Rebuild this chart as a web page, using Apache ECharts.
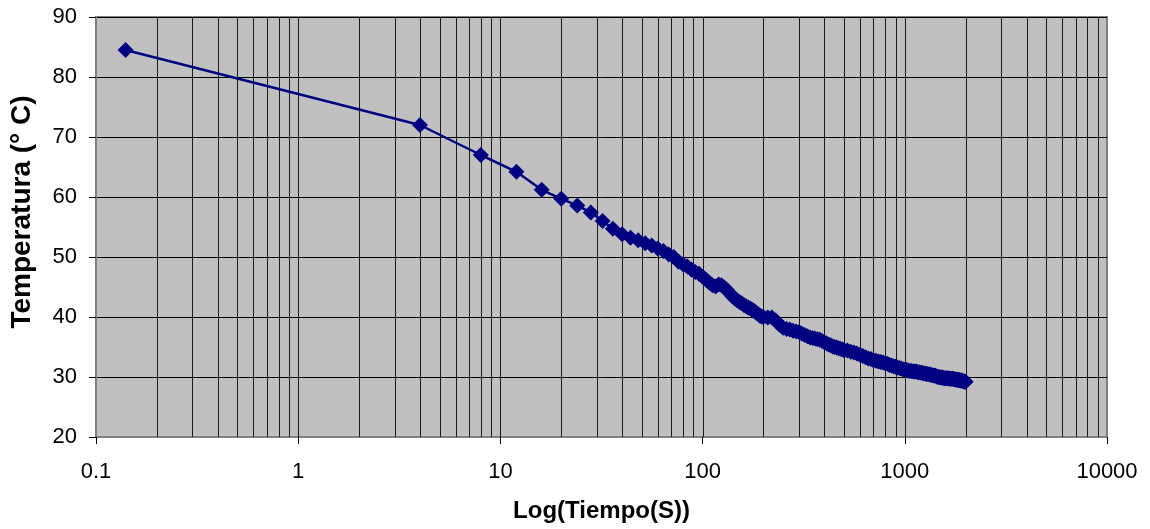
<!DOCTYPE html>
<html>
<head>
<meta charset="utf-8">
<script src="https://cdn.jsdelivr.net/npm/echarts@6/dist/echarts.min.js"></script>
<style>
  html, body { margin: 0; padding: 0; background: #ffffff; }
  #chart { width: 1150px; height: 529px; }
</style>
</head>
<body>
<div id="chart"></div>
<script>
// Sampling times (s) of the cooling record
const tiempos = [
  0.14,
  4, 8, 12, 16, 20, 24, 28, 32, 36, 40, 44, 48, 52, 56, 60, 64, 68, 72, 76, 80,
  84, 88, 92, 96, 100, 104, 108, 112, 116, 120, 124, 128, 132, 136, 140, 144, 148,
  152, 156, 160, 164, 168, 172, 176, 180, 184, 188, 192, 196, 200,
  210, 220, 230, 240, 250, 260, 270, 280, 290, 300, 310, 320, 330, 340, 350, 360,
  370, 380, 390, 400, 410, 420, 430, 440, 450, 460, 470, 480, 490, 500,
  520, 540, 560, 580, 600, 620, 640, 660, 680, 700, 720, 740, 760, 780, 800, 820,
  840, 860, 880, 900, 920, 940, 960, 980, 1000, 1020, 1040, 1060, 1080, 1100, 1120,
  1140, 1160, 1180, 1200, 1220, 1240, 1260, 1280, 1300, 1320, 1340, 1360, 1380, 1400,
  1420, 1440, 1460, 1480, 1500, 1520, 1540, 1560, 1580, 1600, 1620, 1640, 1660, 1680,
  1700, 1720, 1740, 1760, 1780, 1800, 1820, 1840, 1860, 1880, 1900, 1920, 1940, 1960,
  1980, 2000
];

// Measured temperature (°C) at each sampling time
const temperaturas = [
  84.5,
  72.0, 67.0, 64.2, 61.2, 59.7, 58.6, 57.4, 56.0, 54.7, 53.8, 53.2, 52.8, 52.3, 51.9, 51.4, 51.0, 50.4, 50.0, 49.2, 48.8,
  48.4, 47.9, 47.5, 47.2, 46.7, 46.2, 45.7, 45.3, 45.1, 45.4, 45.3, 44.9, 44.5, 44.0, 43.5, 43.1, 42.8,
  42.5, 42.3, 42.0, 41.8, 41.6, 41.4, 41.2, 41.0, 40.7, 40.5, 40.2, 40.1, 40.0,
  39.9, 39.9, 39.4, 38.7, 38.2, 38.0, 37.9, 37.7, 37.6, 37.5, 37.2, 37.0, 36.8, 36.6, 36.5, 36.4,
  36.3, 36.2, 36.0, 35.8, 35.6, 35.4, 35.3, 35.1, 35.0, 34.9, 34.8, 34.7, 34.6, 34.5,
  34.4, 34.2, 34.1, 33.9, 33.7, 33.5, 33.3, 33.1, 33.0, 32.8, 32.7, 32.6, 32.5, 32.4, 32.3, 32.2,
  32.0, 31.9, 31.8, 31.7, 31.6, 31.5, 31.4, 31.3, 31.2, 31.2, 31.1, 31.0, 31.0, 30.9, 30.9,
  30.9, 30.8, 30.8, 30.7, 30.7, 30.6, 30.6, 30.5, 30.5, 30.4, 30.4, 30.3, 30.3, 30.2,
  30.2, 30.1, 30.0, 30.0, 29.9, 29.9, 29.9, 29.8, 29.8, 29.8, 29.8, 29.8, 29.7, 29.7,
  29.7, 29.7, 29.7, 29.6, 29.6, 29.6, 29.5, 29.5, 29.5, 29.4, 29.4, 29.4, 29.3, 29.3,
  29.2, 29.2
];

// Vertical grid lines of the logarithmic time axis (1–9 of every decade)
const lineasTiempo = [
  0.2, 0.3, 0.4, 0.5, 0.6, 0.7, 0.8, 0.9,
  1, 2, 3, 4, 5, 6, 7, 8, 9,
  10, 20, 30, 40, 50, 60, 70, 80, 90,
  100, 200, 300, 400, 500, 600, 700, 800, 900,
  1000, 2000, 3000, 4000, 5000, 6000, 7000, 8000, 9000
];

const yMin = 20, yMax = 90, yPaso = 10;
const xMin = 0.1, xMax = 10000;

const puntos = tiempos.map((t, i) => [t, temperaturas[i]]);
const FONT = '"Liberation Sans", Arial, sans-serif';

const chart = echarts.init(document.getElementById('chart'), null, { renderer: 'canvas' });

chart.setOption({
  animation: false,
  backgroundColor: '#ffffff',
  grid: {
    left: 93, right: 43, top: 17, bottom: 92,
    show: true,
    backgroundColor: '#c0c0c0',
    borderColor: '#808080',
    borderWidth: 2
  },
  xAxis: {
    type: 'log',
    logBase: 10,
    min: xMin,
    max: xMax,
    splitNumber: 5,
    name: 'Log(Tiempo(S))',
    nameLocation: 'middle',
    nameGap: 62,
    nameTextStyle: { fontFamily: FONT, fontSize: 24, fontWeight: 'bold', color: '#000' },
    axisLine: { show: true, lineStyle: { color: '#808080', width: 2 } },
    axisTick: { show: true, length: 7, lineStyle: { color: '#000', width: 1 } },
    axisLabel: {
      fontFamily: FONT, fontSize: 22, color: '#000', margin: 24,
      formatter: v => String(Number(Number(v).toPrecision(6)))
    },
    splitLine: { show: false },
    minorTick: { show: false },
    minorSplitLine: { show: false }
  },
  yAxis: {
    type: 'value',
    min: yMin,
    max: yMax,
    interval: yPaso,
    name: 'Temperatura (° C)',
    nameLocation: 'middle',
    nameGap: 60,
    nameRotate: 90,
    nameTextStyle: {
      fontFamily: FONT, fontSize: 28, fontWeight: 'bold', color: '#000',
      padding: [0, 0, 0, 30]
    },
    axisLine: { show: true, lineStyle: { color: '#808080', width: 2 } },
    axisTick: { show: true, length: 7, lineStyle: { color: '#000', width: 1 } },
    axisLabel: { fontFamily: FONT, fontSize: 22, color: '#000', margin: 19 },
    splitLine: { show: true, lineStyle: { color: '#000', width: 1 } }
  },
  series: [
    {
      // vertical log grid drawn through the axis scale
      type: 'custom',
      silent: true,
      z: 1,
      clip: true,
      data: lineasTiempo.map(v => [v, yMin]),
      encode: { x: 0, y: 1 },
      renderItem: function (params, api) {
        const v = api.value(0);
        const a = api.coord([v, yMin]);
        const b = api.coord([v, yMax]);
        const x = Math.round(a[0]) + 0.5;
        return {
          type: 'line',
          shape: { x1: x, y1: b[1], x2: x, y2: a[1] },
          style: { stroke: '#1a1a1a', lineWidth: 1 }
        };
      }
    },
    {
      name: 'Temperatura',
      type: 'line',
      z: 3,
      data: puntos,
      symbol: 'diamond',
      symbolSize: 16,
      showAllSymbol: true,
      itemStyle: { color: '#000080' },
      lineStyle: { color: '#000080', width: 2.5 },
      emphasis: { disabled: true }
    }
  ]
});
</script>
</body>
</html>
